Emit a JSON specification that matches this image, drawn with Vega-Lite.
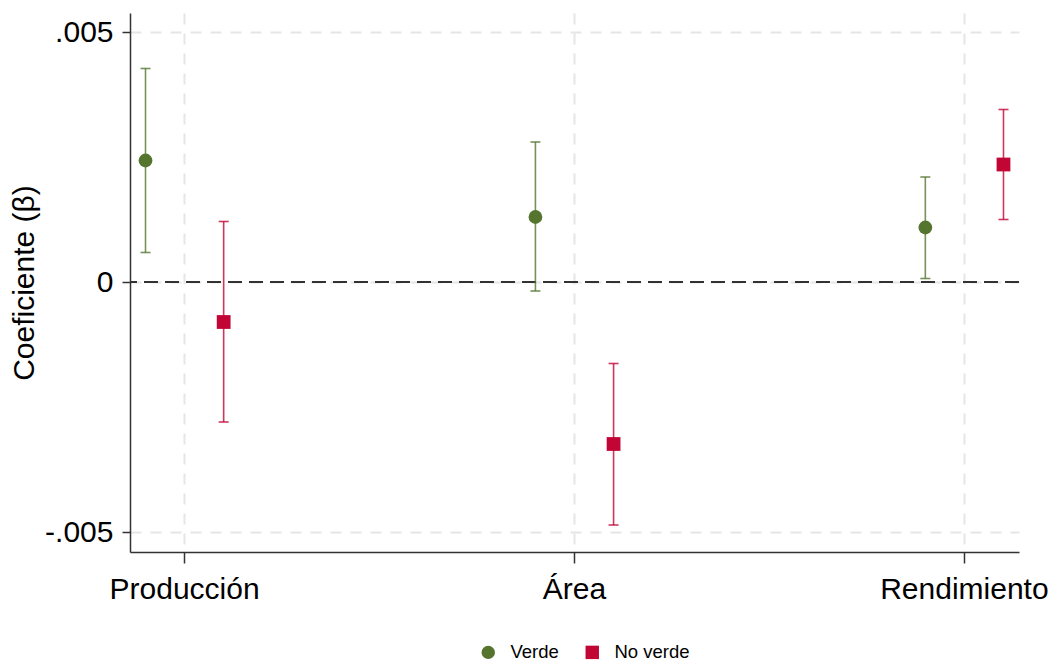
{
  "$schema": "https://vega.github.io/schema/vega-lite/v6.json",
  "width": 889,
  "height": 539,
  "autosize": {"type": "none"},
  "padding": {"left": 130, "top": 13, "right": 36, "bottom": 109},
  "background": "white",
  "config": {
    "view": {"stroke": null},
    "font": "Liberation Sans",
    "axis": {
      "domainColor": "#333333",
      "domainWidth": 1.5,
      "tickColor": "#333333",
      "tickWidth": 1.5,
      "grid": true,
      "gridColor": "#e6e6e6",
      "gridWidth": 2,
      "gridDash": [11, 9],
      "labelColor": "#000000",
      "labelFont": "Liberation Sans",
      "labelFontSize": 30,
      "titleFont": "Liberation Sans",
      "titleFontSize": 30,
      "titleFontWeight": "normal",
      "titleColor": "#000000"
    },
    "legend": {
      "orient": "none",
      "legendX": 349,
      "legendY": 630,
      "direction": "horizontal",
      "title": null,
      "labelFont": "Liberation Sans",
      "labelFontSize": 18.5,
      "labelColor": "#000000",
      "symbolSize": 180,
      "symbolOpacity": 1,
      "symbolStrokeWidth": 0,
      "labelOffset": 13,
      "columnPadding": 24,
      "padding": 0
    }
  },
  "data": {
    "values": [
      {"var": "Producción", "group": "Verde", "b": 0.00243, "lo": 0.00059, "hi": 0.00427},
      {"var": "Producción", "group": "No verde", "b": -0.0008, "lo": -0.0028, "hi": 0.00121},
      {"var": "Área", "group": "Verde", "b": 0.0013, "lo": -0.00018, "hi": 0.0028},
      {"var": "Área", "group": "No verde", "b": -0.00324, "lo": -0.00486, "hi": -0.00163},
      {"var": "Rendimiento", "group": "Verde", "b": 0.00109, "lo": 0.00007, "hi": 0.0021},
      {"var": "Rendimiento", "group": "No verde", "b": 0.00235, "lo": 0.00125, "hi": 0.00345}
    ]
  },
  "encoding": {
    "x": {
      "field": "var",
      "type": "nominal",
      "sort": ["Producción", "Área", "Rendimiento"],
      "scale": {"paddingInner": 0.72, "paddingOuter": 0},
      "axis": {"title": null, "labelAngle": 0, "tickSize": 11, "labelPadding": 11}
    },
    "xOffset": {
      "field": "group",
      "type": "nominal",
      "sort": ["Verde", "No verde"],
      "scale": {"paddingInner": 0.603, "paddingOuter": 0}
    }
  },
  "layer": [
    {
      "mark": {"type": "rule", "color": "#333333", "strokeWidth": 1.5, "strokeDash": [14, 7]},
      "encoding": {
        "x": null,
        "xOffset": null,
        "y": {
          "datum": 0,
          "type": "quantitative",
          "title": "Coeficiente (β)",
          "scale": {"domain": [-0.0054, 0.00538], "nice": false, "zero": false},
          "axis": {
            "values": [-0.005, 0, 0.005],
            "labelExpr": "datum.value == 0 ? '0' : (datum.value > 0 ? '.005' : '-.005')",
            "tickSize": 8,
            "labelPadding": 9,
            "titleAngle": -90,
            "titleX": -106,
            "titleY": 269.5,
            "titleAlign": "center",
            "titleBaseline": "middle"
          }
        }
      }
    },
    {
      "mark": {"type": "rule", "strokeWidth": 1.6, "opacity": 0.8},
      "encoding": {
        "y": {"field": "lo", "type": "quantitative", "title": "Coeficiente (β)"},
        "y2": {"field": "hi"},
        "color": {
          "field": "group",
          "type": "nominal",
          "sort": ["Verde", "No verde"],
          "scale": {"domain": ["Verde", "No verde"], "range": ["#55752f", "#c10534"]}
        }
      }
    },
    {
      "mark": {"type": "tick", "size": 10, "thickness": 1.6, "opacity": 0.8},
      "encoding": {
        "y": {"field": "lo", "type": "quantitative", "title": "Coeficiente (β)"},
        "color": {"field": "group", "type": "nominal", "sort": ["Verde", "No verde"]}
      }
    },
    {
      "mark": {"type": "tick", "size": 10, "thickness": 1.6, "opacity": 0.8},
      "encoding": {
        "y": {"field": "hi", "type": "quantitative", "title": "Coeficiente (β)"},
        "color": {"field": "group", "type": "nominal", "sort": ["Verde", "No verde"]}
      }
    },
    {
      "mark": {"type": "point", "filled": true, "size": 190, "opacity": 1},
      "encoding": {
        "y": {"field": "b", "type": "quantitative", "title": "Coeficiente (β)"},
        "color": {"field": "group", "type": "nominal", "sort": ["Verde", "No verde"]},
        "shape": {
          "field": "group",
          "type": "nominal",
          "sort": ["Verde", "No verde"],
          "scale": {"domain": ["Verde", "No verde"], "range": ["circle", "square"]}
        }
      }
    }
  ]
}
